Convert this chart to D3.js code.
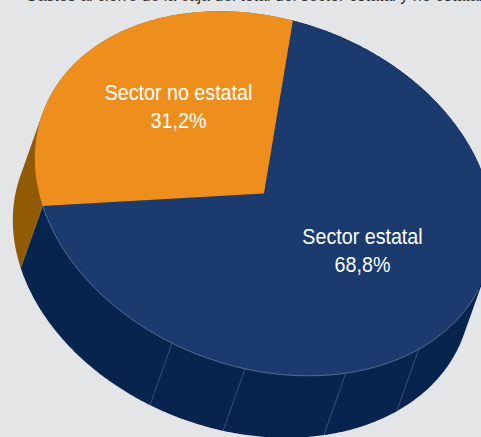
<!DOCTYPE html>
<html>
<head>
<meta charset="utf-8">
<script src="https://cdn.jsdelivr.net/npm/d3@7"></script>
<style>
html,body{margin:0;padding:0;background:#e4e5e7;overflow:hidden}
svg{display:block}
text{font-family:"Liberation Sans",Arial,sans-serif}
</style>
</head>
<body>
<svg id="chart" width="481" height="437"></svg>
<script>
const categories = ["Sector estatal", "Sector no estatal"];
const shares = [68.8, 31.2];
const shareLabels = ["68,8%", "31,2%"];
const topColors = ["#1b3b6e", "#ee8e1d"];
const sideColors = ["#06244e", "#935a04"];
// Fractions of the state slice's rim at which the wall is creased
const wallCreases = [0.526, 0.613, 0.7166, 0.793];
const heading = "Gastos al cierre de la caja del total del sector estatal y no estatal";

const width = 481, height = 437;
const cx = 264, cy = 193.5, rx = 235.5, ry = 174, tilt = 20 * Math.PI / 180;
const depthX = -22, depthY = 62;
const firstAngle = -97.8 * Math.PI / 180;

const svg = d3.select("#chart");

// Tilted ellipse standing in for the pie's circular rim
function rim(t, dx = 0, dy = 0) {
  const u = rx * Math.cos(t), v = ry * Math.sin(t);
  return [cx + u * Math.cos(tilt) - v * Math.sin(tilt) + dx,
          cy + u * Math.sin(tilt) + v * Math.cos(tilt) + dy];
}
const line = d3.line();
function span(a, b, dx = 0, dy = 0) {
  const n = Math.max(2, Math.ceil(Math.abs(b - a) / 0.01));
  return d3.range(n + 1).map(i => rim(a + (b - a) * i / n, dx, dy));
}

const pie = d3.pie().sort(null).value(d => d)
  .startAngle(firstAngle).endAngle(firstAngle + 2 * Math.PI);
const slices = pie(shares);

// Heading that runs off the top edge of the frame
svg.append("text").attr("x", 25).attr("y", 1)
  .attr("font-size", 16).attr("fill", "#333").text(heading);

// Walls: the rim swept along the depth vector, back slice painted first
[1, 0].forEach(i => {
  const s = slices[i];
  const swept = d3.polygonHull(span(s.startAngle, s.endAngle)
    .concat(span(s.startAngle, s.endAngle, depthX, depthY)));
  svg.append("path").attr("fill", sideColors[i]).attr("d", line(swept) + "Z");
});

// Creases across the state slice's wall
const stateSlice = slices[0];
const creaseAngle = d3.scaleLinear().domain([0, 1]).range([stateSlice.startAngle, stateSlice.endAngle]);
wallCreases.forEach(f => {
  const t = creaseAngle(f);
  svg.append("line")
    .attr("x1", rim(t)[0]).attr("y1", rim(t)[1])
    .attr("x2", rim(t, depthX, depthY)[0]).attr("y2", rim(t, depthX, depthY)[1])
    .attr("stroke", "#4d6487").attr("stroke-width", 0.7);
});

// Seam between the two walls
const seam = stateSlice.endAngle;
svg.append("line")
  .attr("x1", rim(seam)[0]).attr("y1", rim(seam)[1])
  .attr("x2", rim(seam, depthX, depthY)[0]).attr("y2", rim(seam, depthX, depthY)[1])
  .attr("stroke", "#7f8a99").attr("stroke-width", 0.5);

// Top faces
slices.forEach((s, i) => {
  svg.append("path").attr("fill", topColors[i])
    .attr("d", line([[cx, cy]].concat(span(s.startAngle, s.endAngle))) + "Z");
});

// Light edge where the state slice meets its wall
svg.append("path").attr("fill", "none").attr("stroke", "#7488a6").attr("stroke-width", 0.7)
  .attr("d", line(span(0.1, seam)));

// Value labels
const labelPos = [[362.5, 244], [178.5, 100]];
categories.forEach((c, i) => {
  const g = svg.append("text").attr("text-anchor", "middle").attr("fill", "#fff")
    .attr("font-size", 22.5).attr("transform", `translate(${labelPos[i][0]},${labelPos[i][1]}) scale(0.875,1)`);
  g.append("tspan").attr("x", 0).attr("y", 0).text(c);
  g.append("tspan").attr("x", 0).attr("y", 28.5).text(shareLabels[i]);
});
</script>
</body>
</html>
